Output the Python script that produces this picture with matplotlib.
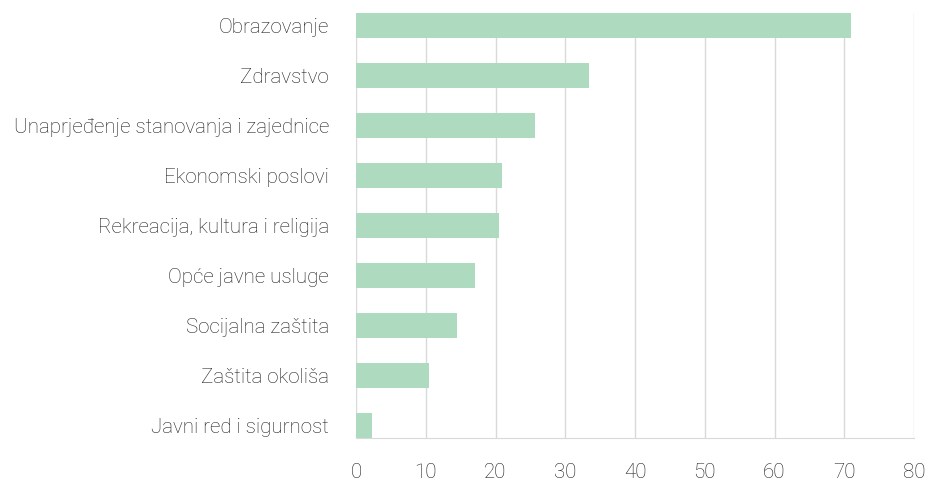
import matplotlib.pyplot as plt

categories = ["Obrazovanje", "Zdravstvo", "Unaprjeđenje stanovanja i zajednice",
              "Ekonomski poslovi", "Rekreacija, kultura i religija",
              "Opće javne usluge", "Socijalna zaštita", "Zaštita okoliša",
              "Javni red i sigurnost"]
values = [70.9, 33.4, 25.7, 20.9, 20.5, 17.1, 14.5, 10.5, 2.3]
xticks = [0, 10, 20, 30, 40, 50, 60, 70, 80]

plt.rcParams['font.family'] = ['Roboto', 'DejaVu Sans']
plt.rcParams['font.weight'] = 'light'

fig = plt.figure(figsize=(9.29, 4.83), dpi=100)
ax = fig.add_axes([356 / 929, 1 - 438 / 483, 558 / 929, 425 / 483])

pos = list(range(len(categories)))
ax.barh(pos, values, height=0.5, color='#aedbc0', zorder=3)

ax.set_xlim(0, 80)
ax.set_ylim(len(categories) - 0.75, -0.25)
ax.set_xticks(xticks)
ax.set_yticks(pos)
ax.set_yticklabels(categories)

ax.grid(axis='x', color='#d9d9d9', linewidth=1, zorder=0)
for side in ['top', 'right', 'left']:
    ax.spines[side].set_visible(False)
ax.spines['bottom'].set_color('#d9d9d9')
ax.tick_params(axis='both', length=0, labelsize=14.8, colors='#1e1e1e')
ax.tick_params(axis='x', pad=18)
ax.tick_params(axis='y', pad=19.5)

fig.savefig('out.png', dpi=100)
